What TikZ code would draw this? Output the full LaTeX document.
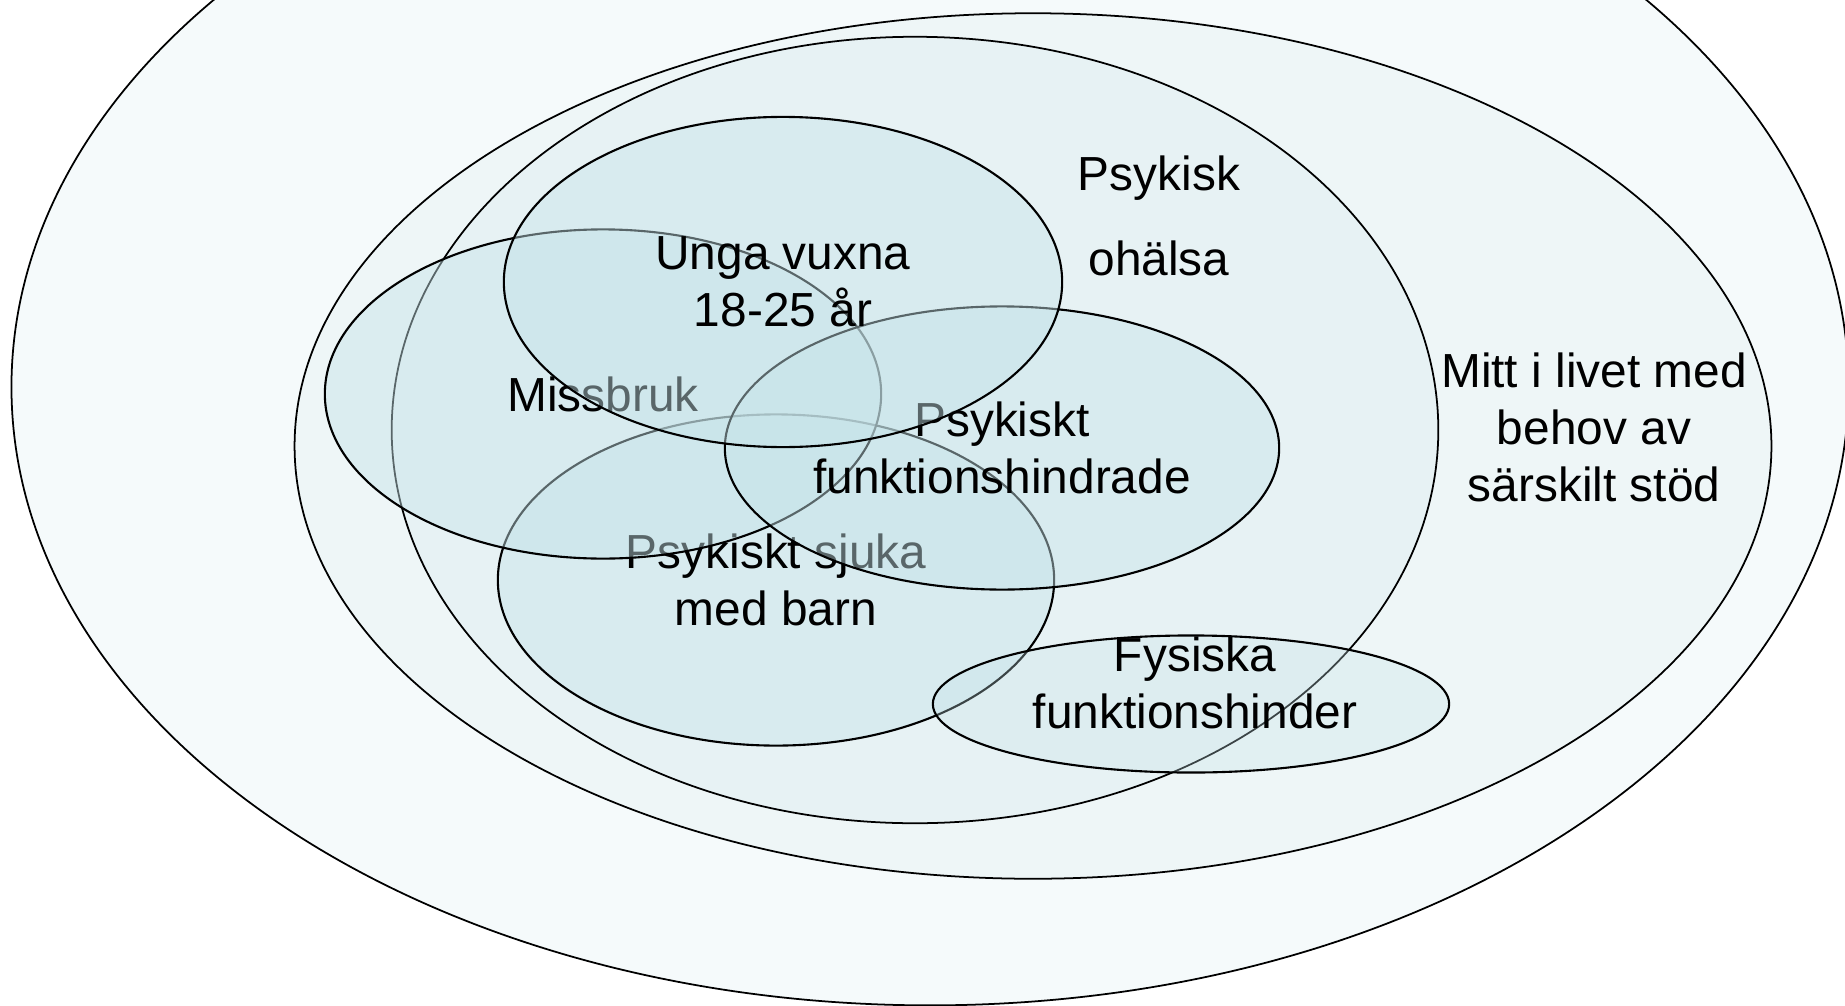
\documentclass[tikz,border=0pt]{standalone}
\usepackage{fontspec}
\setmainfont{Liberation Sans}
\usetikzlibrary{shapes.geometric}
\definecolor{livfill}{HTML}{F5FAFB}
\definecolor{stodfill}{HTML}{EEF6F7}
\definecolor{ohalsafill}{HTML}{E7F2F4}
\definecolor{grpfill}{HTML}{C6E4E9}
\begin{document}
\begin{tikzpicture}[x=0.01cm,y=-0.01cm,
    ring/.style={ellipse,draw=black,line width=0.5pt,inner sep=0pt},
    grp/.style={ellipse,draw=black,line width=0.6pt,inner sep=0pt,fill=grpfill,fill opacity=0.45,text opacity=1,
      align=center,font=\fontsize{13.6}{16.2}\selectfont},
    lbl/.style={align=center,font=\fontsize{13.6}{16.2}\selectfont}]
    \useasboundingbox (0,0) rectangle (1845,1006);
    \clip (0,0) rectangle (1845,1006);
    % rings
    \node[ring,fill=livfill,minimum width=18.36cm,minimum height=12.36cm] (liv) at (930,387) {};
    \node[ring,fill=stodfill,minimum width=14.76cm,minimum height=8.65cm] (stod) at (1033,446) {};
    \node[ring,fill=ohalsafill,minimum width=10.46cm,minimum height=7.86cm] (ohalsa) at (915,430) {};
    % groups
    \node[grp,minimum width=5.56cm,minimum height=3.31cm] (sjuka) at (776,580) {Psykiskt sjuka\\med barn};
    \node[grp,minimum width=5.56cm,minimum height=3.29cm] (missbruk) at (603,394) {Missbruk};
    \node[grp,minimum width=5.54cm,minimum height=2.83cm] (funk) at (1002,448) {Psykiskt\\funktionshindrade};
    \node[grp,minimum width=5.58cm,minimum height=3.30cm] (unga) at (783,282) {Unga vuxna\\18-25 år};
    \node[grp,fill opacity=0.3,minimum width=5.16cm,minimum height=1.37cm] (fysisk) at (1191,704) {};
    \node[lbl] (fysisktext) at (1195,683) {Fysiska\\funktionshinder};
    \node[lbl] (ohalsatext) at (1159,216) {Psykisk\\[0.28cm]ohälsa};
    \node[lbl] (stodtext) at (1594,427) {Mitt i livet med\\behov av\\särskilt stöd};
\end{tikzpicture}
\end{document}
